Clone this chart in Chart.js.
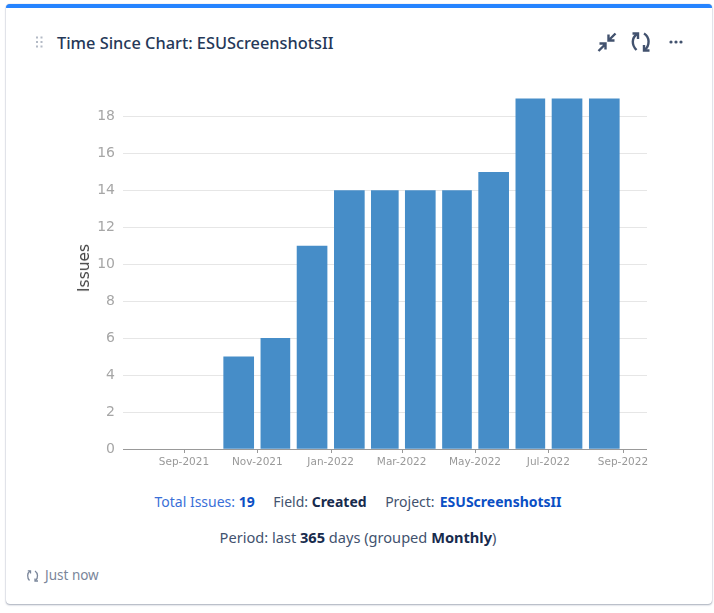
<!DOCTYPE html>
<html>
<head>
<meta charset="utf-8">
<script src="https://cdn.jsdelivr.net/npm/chart.js@4/dist/chart.umd.min.js"></script>
<style>
  html, body { margin: 0; padding: 0; background: #fff; width: 714px; height: 613px; overflow: hidden; }
  body { position: relative; font-family: "Noto Sans", "Open Sans", sans-serif; color: #42526e; }
  .card {
    position: absolute; left: 6px; top: 4px; width: 706px; height: 600px; box-sizing: border-box;
    border-top: 4px solid #2684ff; border-radius: 4px; background: #fff;
    box-shadow: 0 1px 2px rgba(9,30,66,.35), 0 0 1px rgba(9,30,66,.3);
  }
  .title { position: absolute; left: 57px; top: 32px; font-size: 16.35px; font-weight: 500; color: #253858; white-space: nowrap; }
  .line { position: absolute; left: 0; width: 714px; text-align: center; font-size: 14px; white-space: nowrap; }
  .line b { color: #172b4d; font-weight: 700; }
  .line .sp { margin-left: 18.500px; }
  .blue { color: #3a6fd8; }
  .line a, .blue b { color: #0b4fc4; font-weight: 700; text-decoration: none; }
  .line a { margin-left: 1.500px; }
  .ago { position: absolute; left: 45px; top: 566px; font-size: 13.500px; color: #7a869a; }
  .ytitle {
    position: absolute; left: 84px; top: 267.500px; transform: translate(-50%, -50%) rotate(-90deg);
    font-family: "DejaVu Sans", sans-serif; font-size: 15.500px; color: #444444; white-space: nowrap;
  }
  svg { position: absolute; }
  #chart { position: absolute; left: 70px; top: 82px; }
</style>
</head>
<body>
<div class="card"></div>
<svg style="left:35px;top:36px" width="10" height="14" fill="#b3bac5">
  <rect x="1" y="0.500" width="2" height="2"/><rect x="5.500" y="0.500" width="2" height="2"/>
  <rect x="1" y="5" width="2" height="2"/><rect x="5.500" y="5" width="2" height="2"/>
  <rect x="1" y="9.500" width="2" height="2"/><rect x="5.500" y="9.500" width="2" height="2"/>
</svg>
<div class="title">Time Since Chart: ESUScreenshotsII</div>
<svg style="left:596px;top:31px" width="22" height="22" fill="none" stroke="#42526e" stroke-width="2.400">
  <path d="M2.500 20 L9 13.500 M3.500 12.500 H9.500 V18.500"/><path d="M19.500 2.500 L13 9 M12.500 3.500 V9.500 H18.500"/>
</svg>
<svg style="left:630px;top:30px" width="22" height="24" fill="none" stroke="#42526e" stroke-width="2.400">
  <path d="M7 4 C1.500 8 1.500 15 6.500 20"/><path d="M2.500 3.500 H8 V9"/>
  <path d="M14 3.500 C20 7 20 16 14.500 20"/><path d="M19.500 20.500 H14 V15"/>
</svg>
<svg style="left:668px;top:38px" width="16" height="8" fill="#42526e">
  <circle cx="3" cy="4" r="1.600"/><circle cx="8" cy="4" r="1.600"/><circle cx="13" cy="4" r="1.600"/>
</svg>
<canvas id="chart" width="590" height="398"></canvas>
<div class="ytitle">Issues</div>
<div class="line" style="top:492px;left:1px">
  <span class="blue">Total Issues: <b>19</b></span><span class="sp">Field: <b>Created</b></span><span class="sp">Project: <a>ESUScreenshotsII</a></span>
</div>
<div class="line" style="top:527px;left:1px;font-size:14.600px">Period: last <b>365</b> days (grouped <b>Monthly</b>)</div>
<svg style="left:26px;top:569px" width="14" height="14" fill="none" stroke="#7a869a" stroke-width="1.300">
  <path d="M4 2 C1 4 1 9 3.500 11.500"/><path d="M1.800 1.800 H4.500 V4.500"/>
  <path d="M9 2 C12 4 12.500 9 9.500 11.500"/><path d="M12 12 H9 V9.500"/>
</svg>
<div class="ago">Just now</div>
<script>
// days counted from 1 Sep 2021
const tickDays = [0, 61, 122, 181, 242, 303, 365];
const tickLabels = ["Sep-2021", "Nov-2021", "Jan-2022", "Mar-2022", "May-2022", "Jul-2022", "Sep-2022"];
const monthStarts = [30, 61, 91, 122, 153, 181, 212, 242, 273, 303, 334];
const monthLengths = [31, 30, 31, 31, 28, 31, 30, 31, 30, 31, 31];
const issues = [5, 6, 11, 14, 14, 14, 14, 15, 19, 19, 19];

const BAR_COLOR = "#468dc8";
const PX_PER_DAY = 1.203;

// one dataset per month so a bar can be as wide as its month is long
const datasets = issues.map((v, i) => ({
  data: [{ x: monthStarts[i] + monthLengths[i] / 2, y: v }],
  backgroundColor: BAR_COLOR,
  barThickness: Math.round(monthLengths[i] * PX_PER_DAY * 0.8),
  grouped: false,
}));

new Chart(document.getElementById("chart"), {
  type: "bar",
  data: { datasets },
  options: {
    responsive: false,
    animation: false,
    devicePixelRatio: 1,
    layout: { padding: { top: 1, right: 13 } },
    plugins: { legend: { display: false }, tooltip: { enabled: false } },
    scales: {
      x: {
        type: "linear",
        offset: false,
        min: -50.7,
        max: 385,
        afterBuildTicks: (scale) => { scale.ticks = tickDays.map((d) => ({ value: d })); },
        afterFit: (scale) => { scale.height = 31; },
        grid: { display: false, drawTicks: false },
        border: { display: false },
        ticks: {
          autoSkip: false,
          maxRotation: 0,
          padding: 7,
          color: "#999999",
          font: { family: "DejaVu Sans", size: 10.5 },
          callback: (v) => tickLabels[tickDays.indexOf(v)],
        },
      },
      y: {
        min: 0,
        max: 19,
        afterBuildTicks: (scale) => { scale.ticks = scale.ticks.filter((t) => t.value <= 18); },
        afterFit: (scale) => { scale.width = 53; },
        grid: { color: "#e6e6e6", drawTicks: false },
        border: { display: false },
        ticks: {
          stepSize: 2,
          padding: 8,
          color: "#a6a6a6",
          font: { family: "DejaVu Sans", size: 14 },
        },
      },
    },
  },
  plugins: [{
    // axis baseline and the short ticks under it
    id: "xBaseline",
    afterDatasetsDraw(chart) {
      const { ctx, chartArea, scales } = chart;
      ctx.save();
      ctx.strokeStyle = "#999999";
      ctx.lineWidth = 1;
      ctx.beginPath();
      ctx.moveTo(chartArea.left, Math.round(chartArea.bottom) + 0.5);
      ctx.lineTo(chartArea.right, Math.round(chartArea.bottom) + 0.5);
      tickDays.forEach((d) => {
        const px = Math.round(scales.x.getPixelForValue(d)) + 0.5;
        ctx.moveTo(px, chartArea.bottom);
        ctx.lineTo(px, chartArea.bottom + 4);
      });
      ctx.stroke();
      ctx.restore();
    },
  }],
});
</script>
</body>
</html>
